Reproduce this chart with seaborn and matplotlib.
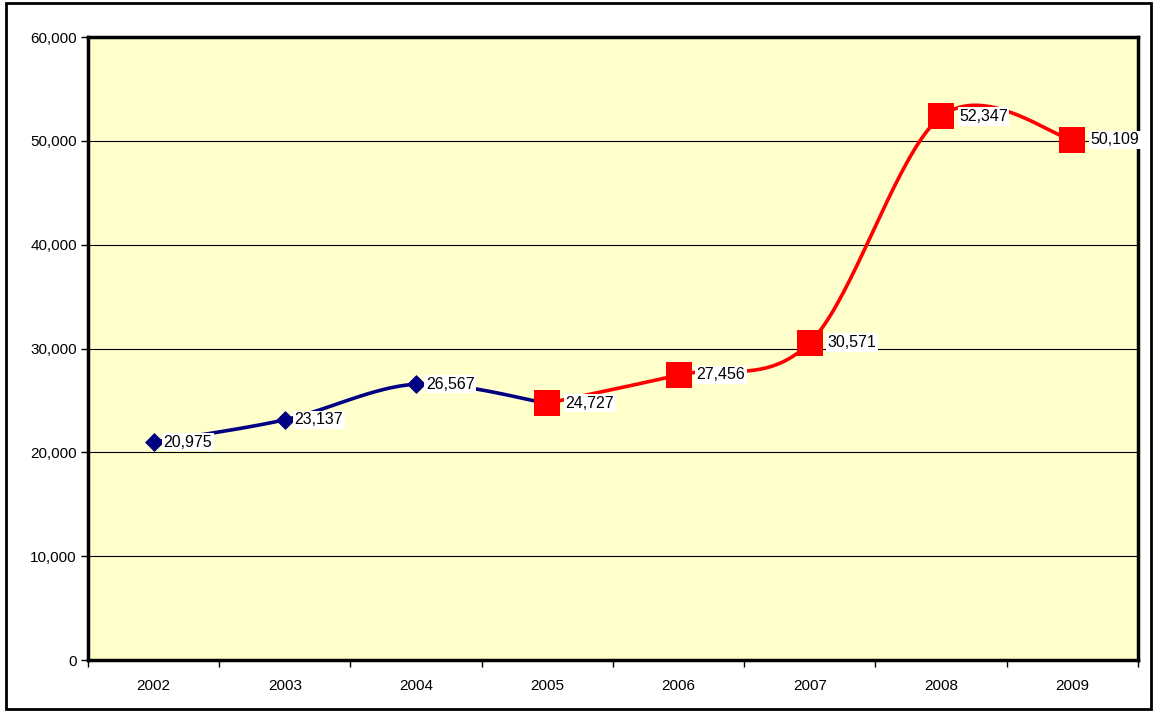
import numpy as np
import pandas as pd
import matplotlib
matplotlib.use("Agg")
import matplotlib.pyplot as plt
import seaborn as sns
from matplotlib.ticker import FuncFormatter, FixedLocator

years = ["2002", "2003", "2004", "2005", "2006", "2007", "2008", "2009"]
blue_years = ["2002", "2003", "2004", "2005"]
blue_vals = [20975, 23137, 26567, 24727]
red_years = ["2005", "2006", "2007", "2008", "2009"]
red_vals = [24727, 27456, 30571, 52347, 50109]
yticks = [0, 10000, 20000, 30000, 40000, 50000, 60000]

NAVY = "#000080"
RED = "#FF0000"
BG = "#FFFFCC"

sns.set_style("white")
plt.rcParams["font.family"] = ["Liberation Sans", "DejaVu Sans"]
plt.rcParams["text.color"] = "black"
plt.rcParams["xtick.color"] = "black"
plt.rcParams["ytick.color"] = "black"


def smooth(xs, ys, n=40):
    # excel-like smoothed line: catmull-rom as cubic bezier
    p = np.column_stack([xs, ys]).astype(float)
    p = np.vstack([p[0], p, p[-1]])
    out = []
    for i in range(1, len(p) - 2):
        p0, p1, p2, p3 = p[i - 1], p[i], p[i + 1], p[i + 2]
        c1 = p1 + (p2 - p0) / 6
        c2 = p2 - (p3 - p1) / 6
        t = np.linspace(0, 1, n)[:, None]
        seg = ((1 - t) ** 3) * p1 + 3 * ((1 - t) ** 2) * t * c1 + 3 * (1 - t) * t ** 2 * c2 + t ** 3 * p2
        out.append(seg if i == 1 else seg[1:])
    out = np.vstack(out)
    return out[:, 0], out[:, 1]


pos = {y: i for i, y in enumerate(years)}
bx = [pos[y] for y in blue_years]
rx = [pos[y] for y in red_years]

fig = plt.figure(figsize=(11.56, 7.12), dpi=100)
ax = fig.add_axes([0.0761, 0.0730, 0.9083, 0.875])
ax.set_facecolor(BG)

ax.set_xlim(-0.5, len(years) - 0.5)
ax.set_ylim(0, 60000)
ax.yaxis.set_major_locator(FixedLocator(yticks))
ax.yaxis.set_major_formatter(FuncFormatter(lambda v, p: f"{int(v):,}"))
ax.grid(axis="y", color="black", linewidth=0.8)
ax.set_axisbelow(True)

sx, sy = smooth(bx, blue_vals)
sns.lineplot(x=sx, y=sy, ax=ax, color=NAVY, linewidth=2.6, sort=False, estimator=None, zorder=3)
sx, sy = smooth(rx, red_vals)
sns.lineplot(x=sx, y=sy, ax=ax, color=RED, linewidth=2.6, sort=False, estimator=None, zorder=3)

sns.scatterplot(x=bx[:-1], y=blue_vals[:-1], ax=ax, marker="D", s=80, color=NAVY, edgecolor=NAVY, zorder=4)
sns.scatterplot(x=rx, y=red_vals, ax=ax, marker="s", s=340, color=RED, edgecolor=RED, linewidth=0, zorder=4)

bbox = dict(boxstyle="square,pad=0.1", fc="white", ec="none")
for x, v in zip(bx[:-1], blue_vals[:-1]):
    ax.annotate(f"{v:,}", (x, v), xytext=(7, 0), textcoords="offset points",
                ha="left", va="center", fontsize=11.5, color="black", bbox=bbox, zorder=5)
for x, v in zip(rx, red_vals):
    ax.annotate(f"{v:,}", (x, v), xytext=(13, 0), textcoords="offset points",
                ha="left", va="center", fontsize=11.5, color="black", bbox=bbox, zorder=5)

ax.set_xticks(range(len(years)))
ax.set_xticklabels(years)
ax.set_xticks(np.arange(-0.5, len(years)), minor=True)
ax.tick_params(axis="x", which="major", bottom=True, length=0, pad=14, labelsize=11)
ax.tick_params(axis="x", which="minor", bottom=True, length=5, width=1, direction="out", color="black")
ax.tick_params(axis="y", which="major", left=True, length=5, width=1, direction="out", color="black",
               labelsize=11, pad=3)
ax.set_xlabel("")
ax.set_ylabel("")

for s in ax.spines.values():
    s.set_visible(True)
    s.set_color("black")
    s.set_linewidth(2.5)

fig.patches.append(plt.Rectangle((0.005, 0.004), 0.991, 0.992, transform=fig.transFigure,
                                 fill=False, edgecolor="black", linewidth=2))

fig.savefig("out.png", dpi=100, facecolor="white")
